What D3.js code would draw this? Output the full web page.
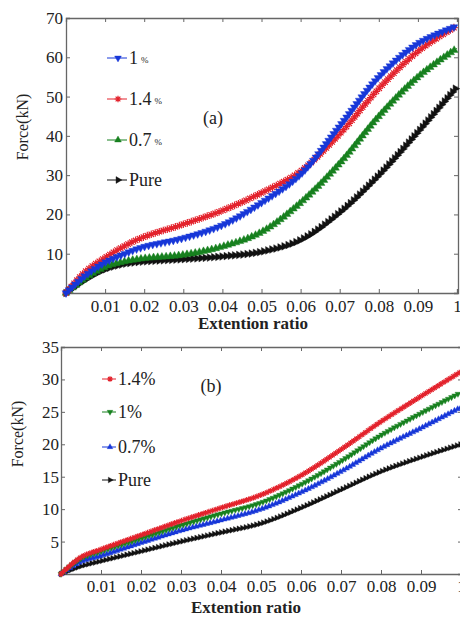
<!DOCTYPE html>
<html>
<head>
<meta charset="utf-8">
<script src="https://cdn.jsdelivr.net/npm/d3@7"></script>
<style>
  body { margin: 0; background: #fff; }
  text { font-family: "Liberation Serif", "Times New Roman", serif; fill: #222; }
</style>
</head>
<body>
<div class="chart"></div>
<script>
// ---- data ----
// panel (a)
var xA = [0, 0.005, 0.01, 0.015, 0.02, 0.03, 0.04, 0.05, 0.06, 0.07, 0.08, 0.09, 0.1];
var a_1pct   = [0, 4.5, 7.8, 10.0, 11.8, 14.0, 17.3, 23.0, 30.2, 42.5, 55.0, 63.5, 68.0];
var a_14pct  = [0, 5.5, 9.0, 12.0, 14.3, 17.5, 21.0, 25.5, 31.0, 40.5, 52.0, 61.5, 68.0];
var a_07pct  = [0, 3.8, 6.6, 8.0, 8.8, 9.7, 11.8, 15.5, 23.0, 33.0, 45.0, 55.0, 62.3];
var a_pure   = [0, 3.4, 6.0, 7.4, 8.0, 8.6, 9.3, 10.5, 13.5, 20.5, 30.0, 41.0, 52.5];
var legendA  = ["1 %", "1.4 %", "0.7 %", "Pure"];
var yTicksA  = [10, 20, 30, 40, 50, 60, 70];

// panel (b)
var xB = [0, 0.005, 0.01, 0.02, 0.03, 0.04, 0.05, 0.06, 0.07, 0.08, 0.09, 0.1];
var b_14pct  = [0, 2.6, 3.8, 6.0, 8.2, 10.2, 12.2, 15.2, 19.2, 23.5, 27.4, 31.2];
var b_1pct   = [0, 2.4, 3.5, 5.5, 7.5, 9.3, 11.0, 13.8, 17.4, 21.4, 24.8, 28.0];
var b_07pct  = [0, 1.9, 2.8, 4.8, 6.7, 8.3, 10.0, 12.6, 15.8, 19.4, 22.5, 25.7];
var b_pure   = [0, 1.2, 2.0, 3.5, 5.0, 6.4, 7.8, 10.2, 13.0, 15.8, 18.0, 20.0];
var legendB  = ["1.4%", "1%", "0.7%", "Pure"];
var yTicksB  = [5, 10, 15, 20, 25, 30, 35];

var xTicks      = [0.01, 0.02, 0.03, 0.04, 0.05, 0.06, 0.07, 0.08, 0.09, 0.1];
var xTickLabels = ["0.01", "0.02", "0.03", "0.04", "0.05", "0.06", "0.07", "0.08", "0.09", "1"];

var colors = { blue: "#1737d8", red: "#e3222c", green: "#17801f", black: "#111" };

var svg = d3.select(".chart").append("svg")
    .attr("width", 460)
    .attr("height", 617);

// marker shapes
function markerD(kind, size) {
  if (kind === "star") {
    var r = Math.sqrt(size) * 0.75;
    var d = "";
    for (var k = 0; k < 4; k++) {
      var a = k * Math.PI / 4;
      d += "M" + (-r * Math.cos(a)) + "," + (-r * Math.sin(a)) + "L" + (r * Math.cos(a)) + "," + (r * Math.sin(a));
    }
    return d;
  }
  return d3.symbol().type(d3.symbolTriangle).size(size)();
}
function markerRot(kind) {
  if (kind === "down") return 180;
  if (kind === "right") return 90;
  return 0;
}
function drawMarker(g, kind, size, color, x, y) {
  var p = g.append("path")
      .attr("d", markerD(kind, size))
      .attr("transform", "translate(" + x + "," + y + ") rotate(" + markerRot(kind) + ")");
  if (kind === "star") p.attr("fill", "none").attr("stroke", color).attr("stroke-width", 1.2);
  else p.attr("fill", color).attr("stroke", color).attr("stroke-width", 0.4);
}

function drawPanel(cfg) {
  var x = d3.scaleLinear().domain([0, 0.1]).range([cfg.left, cfg.right]);
  var y = d3.scaleLinear().domain([0, cfg.ymax]).range([cfg.bottom, cfg.top]);
  var g = svg.append("g");

  // axes (inward ticks)
  var axB = g.append("g").attr("transform", "translate(0," + cfg.bottom + ")")
      .call(d3.axisBottom(x).tickValues(xTicks).tickSize(-4).tickPadding(cfg.xpad)
            .tickFormat(function (d, i) { return xTickLabels[i]; }));
  var axT = g.append("g").attr("transform", "translate(0," + cfg.top + ")")
      .call(d3.axisTop(x).tickValues(xTicks).tickSize(-4).tickFormat(""));
  var axL = g.append("g").attr("transform", "translate(" + cfg.left + ",0)")
      .call(d3.axisLeft(y).tickValues(cfg.yTicks).tickSize(-4).tickPadding(cfg.ypad));
  var axR = g.append("g").attr("transform", "translate(" + (cfg.right + 1) + ",0)")
      .call(d3.axisRight(y).tickValues(cfg.yTicks).tickSize(-4).tickFormat(""));
  [axB, axT, axL, axR].forEach(function (ax) {
    ax.select(".domain").attr("stroke", "#666").attr("stroke-width", 1.3);
    ax.selectAll(".tick line").attr("stroke", "#666");
    ax.selectAll("text").attr("font-size", 17).attr("fill", "#222")
      .attr("font-family", '"Liberation Serif", serif');
  });

  // axis titles
  g.append("text")
      .attr("x", cfg.titleX).attr("y", cfg.titleY)
      .attr("text-anchor", "middle")
      .attr("font-size", 17)
      .attr("font-weight", "bold")
      .text("Extention ratio");
  g.append("text")
      .attr("transform", "translate(" + cfg.ylabX + "," + cfg.ylabY + ") rotate(-90)")
      .attr("text-anchor", "middle")
      .attr("font-size", 16)
      .text("Force(kN)");

  // panel letter
  g.append("text")
      .attr("x", cfg.letterX).attr("y", cfg.letterY)
      .attr("text-anchor", "middle")
      .attr("font-size", 18)
      .text(cfg.letter);

  var line = d3.line()
      .x(function (d) { return x(d[0]); })
      .y(function (d) { return y(d[1]); })
      .curve(d3.curveCatmullRom.alpha(0.5));

  // draw back to front
  cfg.series.slice().reverse().forEach(function (s) {
    var pts = cfg.xs.map(function (v, i) { return [v, s.values[i]]; });
    var path = g.append("path")
        .datum(pts)
        .attr("d", line)
        .attr("fill", "none")
        .attr("stroke", s.color)
        .attr("stroke-width", 1);
    // dense markers spaced evenly along the drawn line
    var node = path.node(), L = node.getTotalLength();
    var mk = g.append("g");
    d3.range(0, L, cfg.gap).forEach(function (l) {
      var p = node.getPointAtLength(l);
      drawMarker(mk, s.marker, cfg.msize, s.color, p.x, p.y);
    });
  });

  // legend
  cfg.series.forEach(function (s, i) {
    var ly = cfg.legY[i];
    var lg = g.append("g");
    lg.append("line")
        .attr("x1", cfg.legX).attr("x2", cfg.legX + cfg.legW)
        .attr("y1", ly).attr("y2", ly)
        .attr("stroke", s.color).attr("stroke-width", 1);
    drawMarker(lg, s.marker, cfg.lsize, s.color, cfg.legX + cfg.legW / 2 + 1, ly);
    var t = lg.append("text")
        .attr("x", cfg.legX + cfg.legW + 2).attr("y", ly + 6)
        .attr("font-size", 18);
    var parts = s.name.split(" %");
    t.append("tspan").text(parts[0]);
    if (parts.length > 1) {
      t.append("tspan").attr("font-size", 9).attr("dx", 3).attr("dy", -1).text("%");
    }
  });
}

drawPanel({
  left: 66, right: 457, top: 18, bottom: 293, ymax: 70, yTicks: yTicksA, ypad: 3, xpad: 7,
  xs: xA, gap: 4.2, msize: 26, lsize: 20,
  titleX: 253, titleY: 329, ylabX: 28, ylabY: 127,
  letter: "(a)", letterX: 213, letterY: 124,
  legX: 107, legW: 20, legY: [58, 99, 140, 180],
  series: [
    { name: legendA[0], values: a_1pct,  color: colors.blue,  marker: "down" },
    { name: legendA[1], values: a_14pct, color: colors.red,   marker: "star" },
    { name: legendA[2], values: a_07pct, color: colors.green, marker: "up" },
    { name: legendA[3], values: a_pure,  color: colors.black, marker: "right" }
  ]
});

drawPanel({
  left: 61, right: 461, top: 347, bottom: 574, ymax: 35, yTicks: yTicksB, ypad: 2, xpad: 6,
  xs: xB, gap: 3.6, msize: 15, lsize: 14,
  titleX: 246, titleY: 613, ylabX: 23, ylabY: 434,
  letter: "(b)", letterX: 211, letterY: 392,
  legX: 102, legW: 14, legY: [379, 412, 447, 480],
  series: [
    { name: legendB[0], values: b_14pct, color: colors.red,   marker: "star" },
    { name: legendB[1], values: b_1pct,  color: colors.green, marker: "down" },
    { name: legendB[2], values: b_07pct, color: colors.blue,  marker: "up" },
    { name: legendB[3], values: b_pure,  color: colors.black, marker: "right" }
  ]
});
</script>
</body>
</html>
